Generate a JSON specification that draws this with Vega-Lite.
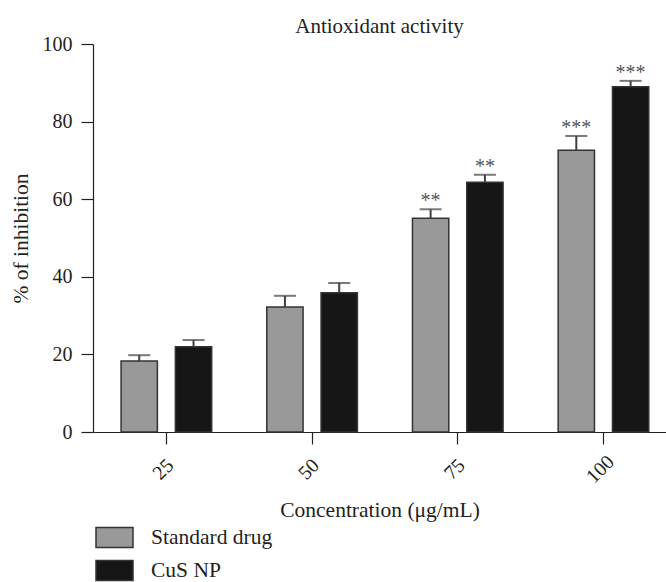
{
  "$schema": "https://vega.github.io/schema/vega-lite/v6.json",
  "width": 573,
  "height": 388,
  "autosize": {"type": "none"},
  "padding": {"left": 93, "top": 44, "right": 0, "bottom": 150},
  "title": {
    "text": "Antioxidant activity",
    "font": "Liberation Serif",
    "fontSize": 21,
    "fontWeight": "normal",
    "color": "#231f20",
    "anchor": "middle",
    "frame": "group",
    "offset": 0,
    "dy": 3
  },
  "config": {
    "view": {"stroke": null},
    "font": "Liberation Serif",
    "axis": {
      "labelFont": "Liberation Serif",
      "titleFont": "Liberation Serif",
      "labelFontSize": 20,
      "titleFontSize": 21.5,
      "titleFontWeight": "normal",
      "labelColor": "#231f20",
      "titleColor": "#231f20",
      "domainColor": "#231f20",
      "tickColor": "#231f20",
      "domainWidth": 1.2,
      "tickWidth": 1.2,
      "tickSize": 12,
      "grid": false
    }
  },
  "data": {
    "values": [
      {"conc": "25", "group": "Standard drug", "value": 18.3, "upper": 19.8, "sig": ""},
      {"conc": "25", "group": "CuS NP", "value": 22.0, "upper": 23.7, "sig": ""},
      {"conc": "50", "group": "Standard drug", "value": 32.2, "upper": 35.1, "sig": ""},
      {"conc": "50", "group": "CuS NP", "value": 35.9, "upper": 38.4, "sig": ""},
      {"conc": "75", "group": "Standard drug", "value": 55.1, "upper": 57.4, "sig": "**"},
      {"conc": "75", "group": "CuS NP", "value": 64.4, "upper": 66.3, "sig": "**"},
      {"conc": "100", "group": "Standard drug", "value": 72.6, "upper": 76.3, "sig": "***"},
      {"conc": "100", "group": "CuS NP", "value": 89.0, "upper": 90.5, "sig": "***"}
    ]
  },
  "encoding": {
    "x": {
      "field": "conc",
      "type": "ordinal",
      "sort": ["25", "50", "75", "100"],
      "scale": {"paddingInner": 0.2, "paddingOuter": 0.0665, "align": 0.78},
      "axis": {
        "title": "Concentration (μg/mL)",
        "labelAngle": -45,
        "labelAlign": "center",
        "labelBaseline": "middle",
        "labelPadding": 25,
        "labelOffset": -3,
        "titleY": 78,
        "titleBaseline": "middle"
      }
    },
    "xOffset": {
      "field": "group",
      "type": "nominal",
      "sort": ["Standard drug", "CuS NP"],
      "scale": {"paddingInner": 0.3315, "paddingOuter": 0.239}
    },
    "y": {
      "field": "value",
      "type": "quantitative",
      "scale": {"domain": [0, 100], "nice": false},
      "axis": {
        "title": "% of inhibition",
        "values": [0, 20, 40, 60, 80, 100],
        "labelPadding": 9,
        "titleX": -72,
        "titleY": 194,
        "titleAngle": -90,
        "titleAlign": "center",
        "titleBaseline": "middle"
      }
    }
  },
  "layer": [
    {
      "mark": {"type": "bar", "stroke": "#333333", "strokeWidth": 1.5, "opacity": 1},
      "encoding": {
        "color": {
          "field": "group",
          "type": "nominal",
          "scale": {"domain": ["Standard drug", "CuS NP"], "range": ["#999999", "#161616"]},
          "legend": {
            "title": null,
            "orient": "none",
            "legendX": 2,
            "legendY": 474,
            "direction": "vertical",
            "padding": 0,
            "symbolType": "M-1,-0.54L1,-0.54L1,0.54L-1,0.54Z",
            "symbolSize": 1369,
            "symbolStrokeColor": "#333333",
            "symbolStrokeWidth": 1.5,
            "symbolOpacity": 1,
            "labelFont": "Liberation Serif",
            "labelFontSize": 21.5,
            "labelColor": "#231f20",
            "labelOffset": 17,
            "rowPadding": -3
          }
        }
      }
    },
    {
      "mark": {"type": "rule", "color": "#404040", "strokeWidth": 2},
      "encoding": {
        "y": {"field": "value", "type": "quantitative"},
        "y2": {"field": "upper"}
      }
    },
    {
      "mark": {"type": "tick", "color": "#404040", "size": 22, "thickness": 2},
      "encoding": {
        "y": {"field": "upper", "type": "quantitative"}
      }
    },
    {
      "mark": {"type": "text", "color": "#555555", "fontSize": 20, "font": "Liberation Serif", "baseline": "alphabetic", "dy": -2},
      "encoding": {
        "y": {"field": "upper", "type": "quantitative"},
        "text": {"field": "sig"}
      }
    }
  ]
}
